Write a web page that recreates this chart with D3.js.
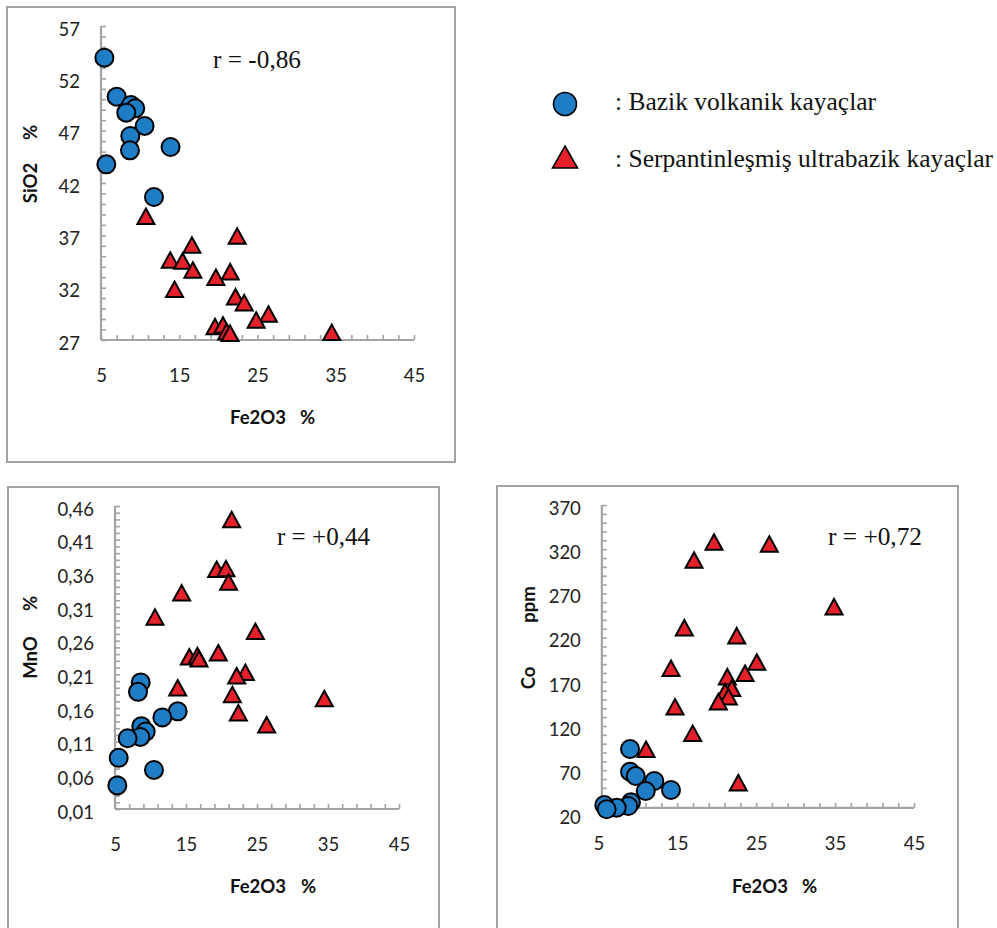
<!DOCTYPE html>
<html><head><meta charset="utf-8">
<script src="https://cdn.jsdelivr.net/npm/d3@7"></script>
<style>
html,body{margin:0;padding:0;background:#fff;}
svg{display:block;}
</style></head>
<body>
<svg id="chart" width="997" height="928"></svg>
<script>
// ---------- DATA ----------
const xTicks = [5, 15, 25, 35, 45];

// Panel 1: SiO2 vs Fe2O3
const sio2Ticks = [27, 32, 37, 42, 47, 52, 57];
const sio2BazikFe = [5.43, 7.0, 8.83, 9.38, 8.23, 10.57, 8.74, 13.89, 8.70, 5.68, 11.77];
const sio2Bazik   = [53.97, 50.25, 49.45, 49.13, 48.72, 47.45, 46.49, 45.44, 45.12, 43.78, 40.66];
const sio2UltraFe = [10.74, 22.40, 16.62, 13.85, 15.43, 16.74, 21.51, 19.68, 14.40, 22.19, 23.30, 26.40, 24.83, 19.57, 20.59, 21.06, 21.49, 34.49];
const sio2Ultra   = [38.82, 36.94, 36.08, 34.64, 34.55, 33.69, 33.53, 32.99, 31.84, 31.14, 30.57, 29.48, 28.91, 28.28, 28.44, 27.80, 27.65, 27.73];

// Panel 2: MnO vs Fe2O3
const mnoTicks = [0.01, 0.06, 0.11, 0.16, 0.21, 0.26, 0.31, 0.36, 0.41, 0.46];
const mnoBazikFe = [8.62, 8.24, 13.83, 11.67, 8.71, 9.32, 8.57, 6.78, 5.52, 10.49, 5.33];
const mnoBazik   = [0.198, 0.184, 0.155, 0.146, 0.133, 0.125, 0.117, 0.115, 0.086, 0.068, 0.045];
const mnoUltraFe = [21.43, 19.32, 20.63, 21.0, 14.39, 10.63, 24.77, 19.55, 15.47, 16.60, 16.83, 23.36, 22.14, 13.83, 21.53, 22.37, 34.48, 26.36];
const mnoUltra   = [0.440, 0.366, 0.367, 0.347, 0.331, 0.295, 0.274, 0.242, 0.236, 0.238, 0.233, 0.213, 0.208, 0.190, 0.180, 0.153, 0.174, 0.135];

// Panel 3: Co vs Fe2O3
const coTicks = [20, 70, 120, 170, 220, 270, 320, 370];
const coBazikFe = [9.02, 9.02, 9.74, 12.10, 14.21, 11.01, 9.14, 8.80, 7.33, 5.76, 6.06];
const coBazik   = [94, 68.3, 63.4, 57.8, 47.6, 46.5, 33.7, 29.5, 27.6, 30.6, 25.8];
const coUltraFe = [19.66, 26.67, 17.13, 34.87, 15.90, 22.54, 25.08, 14.21, 21.35, 23.59, 21.91, 21.06, 21.48, 20.21, 14.72, 16.96, 11.05, 22.74];
const coUltra   = [328.1, 325.9, 307.8, 255.0, 231.2, 222.2, 192.4, 185.3, 175.8, 179.6, 162.6, 158.8, 153.1, 147.5, 141.8, 111.7, 93.6, 55.9];

const legendLabels = [": Bazik volkanik kayaçlar", ": Serpantinleşmiş ultrabazik kayaçlar"];

// ---------- STYLE ----------
const BLUE = "#1f7dc6", RED = "#e4212a", AXIS = "#a3a3a3";
const SERIF = "'Liberation Serif', 'Times New Roman', serif";
const svg = d3.select("#chart");
const comma = v => String(v).replace(".", ",");

function triPath(w, h) {
  return `M0,${-h/2}L${w/2},${h/2}L${-w/2},${h/2}Z`;
}

function panel(cfg) {
  const g = svg.append("g");
  g.append("rect").attr("x", cfg.frame[0]).attr("y", cfg.frame[1])
    .attr("width", cfg.frame[2]).attr("height", cfg.frame[3])
    .attr("fill", "none").attr("stroke", AXIS).attr("stroke-width", 2);

  const x = d3.scaleLinear().domain([5, 45]).range(cfg.xr);
  const y = d3.scaleLinear().domain(cfg.yd).range(cfg.yr);
  const axX = x(cfg.yAxisAt), axY = y(cfg.xAxisAt);

  g.append("g").attr("transform", `translate(${axX},0)`)
    .call(d3.axisRight(y).tickValues(cfg.yMinor).tickSize(5).tickFormat(""))
    .call(s => { s.select(".domain").remove(); s.selectAll("line").attr("stroke", AXIS).attr("stroke-width", 1.6); });
  g.append("g").attr("transform", `translate(0,${axY})`)
    .call(d3.axisTop(x).tickValues(d3.range(5, 45.01, 2)).tickSize(5).tickFormat(""))
    .call(s => { s.select(".domain").remove(); s.selectAll("line").attr("stroke", AXIS).attr("stroke-width", 1.6); });

  g.append("line").attr("x1", axX).attr("x2", axX).attr("y1", y(cfg.yd[1])).attr("y2", axY)
    .attr("stroke", AXIS).attr("stroke-width", 2.2);
  g.append("line").attr("x1", axX).attr("x2", x(45)).attr("y1", axY).attr("y2", axY)
    .attr("stroke", AXIS).attr("stroke-width", 2.2);

  g.append("g").attr("transform", `translate(${axX - 21},0)`)
    .call(d3.axisLeft(y).tickValues(cfg.yTicks).tickSize(0).tickPadding(0).tickFormat(cfg.fmt))
    .call(s => { s.select(".domain").remove();
      s.selectAll("text").attr("dy", "0.5em").attr("fill", "#222")
        .style("font-family", "Lato, sans-serif").style("font-size", "18.5px"); });
  g.append("g").attr("transform", `translate(0,${axY})`)
    .call(d3.axisBottom(x).tickValues(xTicks).tickSize(0).tickPadding(29))
    .call(s => { s.select(".domain").remove();
      s.selectAll("text").attr("fill", "#222")
        .style("font-family", "Lato, sans-serif").style("font-size", "18.5px"); });

  const bold = sel => sel.attr("font-family", "Lato, sans-serif").attr("font-weight", "bold")
    .attr("font-size", 18.5).attr("fill", "#111");
  cfg.yTitle.forEach(t => {
    g.append("text").attr("transform", `translate(${t[1]},${t[2]}) rotate(-90)`)
      .attr("text-anchor", "middle").text(t[0]).call(bold);
  });
  cfg.xTitle.forEach(t => {
    g.append("text").attr("x", t[1]).attr("y", t[2]).text(t[0]).call(bold);
  });

  g.append("text").attr("x", cfg.r[1]).attr("y", cfg.r[2]).text(cfg.r[0])
    .attr("font-family", SERIF).attr("font-size", 25).attr("fill", "#111")
    .attr("textLength", cfg.r[3]).attr("lengthAdjust", "spacingAndGlyphs");

  g.append("g").selectAll("circle").data(d3.range(cfg.bx.length)).join("circle")
    .attr("cx", i => x(cfg.bx[i])).attr("cy", i => y(cfg.by[i])).attr("r", 9)
    .attr("fill", BLUE).attr("stroke", "#000").attr("stroke-width", 2);
  g.append("g").selectAll("path").data(d3.range(cfg.ux.length)).join("path")
    .attr("d", triPath(17, 15.5))
    .attr("transform", i => `translate(${x(cfg.ux[i])},${y(cfg.uy[i])})`)
    .attr("fill", RED).attr("stroke", "#000").attr("stroke-width", 2).attr("stroke-linejoin", "miter");
}

panel({
  frame: [7, 7, 448, 455], xr: [101, 414], yd: [27, 57], yr: [340, 26],
  yAxisAt: 5, xAxisAt: 27, yTicks: sio2Ticks, yMinor: d3.range(27, 57.01, 1), fmt: d => comma(d),
  yTitle: [["SiO2", 37, 183], ["%", 37, 132.5]],
  xTitle: [["Fe2O3", 230, 424], ["%", 300, 424]],
  r: ["r = -0,86", 213, 68, 88],
  bx: sio2BazikFe, by: sio2Bazik, ux: sio2UltraFe, uy: sio2Ultra
});

panel({
  frame: [8, 487, 431, 460], xr: [115, 399], yd: [0.01, 0.46], yr: [809, 506],
  yAxisAt: 5, xAxisAt: 0.01, yTicks: mnoTicks, yMinor: d3.range(1, 46.5, 1).map(v => v / 100),
  fmt: d => comma(d.toFixed(2)),
  yTitle: [["MnO", 37, 657.5], ["%", 37, 603.5]],
  xTitle: [["Fe2O3", 230, 893], ["%", 301, 893]],
  r: ["r = +0,44", 277, 545, 93],
  bx: mnoBazikFe, by: mnoBazik, ux: mnoUltraFe, uy: mnoUltra
});

panel({
  frame: [497, 486, 461, 460], xr: [598.3, 914], yd: [20, 370], yr: [814.4, 505],
  yAxisAt: 5.45, xAxisAt: 27.3, yTicks: coTicks, yMinor: d3.range(30, 370.1, 10),
  fmt: d => comma(d),
  yTitle: [["Co", 535, 678], ["ppm", 535, 604.5]],
  xTitle: [["Fe2O3", 732, 893], ["%", 802, 893]],
  r: ["r = +0,72", 828, 545, 94],
  bx: coBazikFe, by: coBazik, ux: coUltraFe, uy: coUltra
});

// legend
const lg = svg.append("g");
lg.append("circle").attr("cx", 565).attr("cy", 104).attr("r", 11.5)
  .attr("fill", BLUE).attr("stroke", "#000").attr("stroke-width", 1.6);
lg.append("path").attr("d", triPath(25, 22)).attr("transform", "translate(565,157)")
  .attr("fill", RED).attr("stroke", "#000").attr("stroke-width", 1.6);
const legendWidths = [261, 378];
legendLabels.forEach((t, i) => {
  lg.append("text").attr("x", 615).attr("y", 109.5 + i * 57.2).text(t)
    .attr("font-family", SERIF).attr("font-size", 24.5).attr("fill", "#111")
    .attr("textLength", legendWidths[i]).attr("lengthAdjust", "spacingAndGlyphs");
});
</script>
</body></html>
